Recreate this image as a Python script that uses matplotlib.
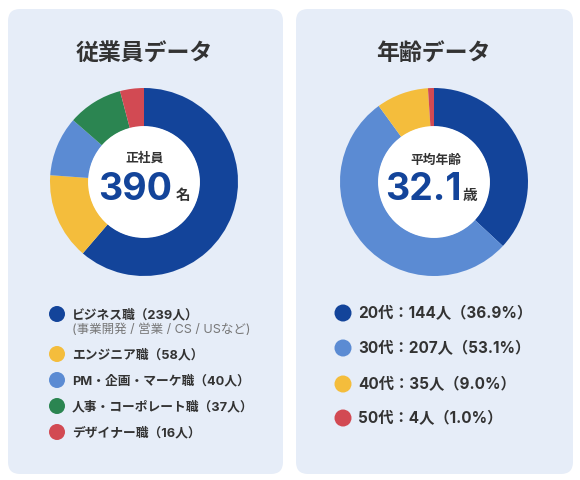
import matplotlib
matplotlib.use("Agg")
import matplotlib.pyplot as plt
from matplotlib.patches import FancyBboxPatch, Circle

plt.rcParams['font.family'] = ['Noto Sans CJK JP', 'DejaVu Sans']
MIX = ['Inter', 'Noto Sans CJK JP', 'DejaVu Sans']

# ---- data ----
job_labels = ["ビジネス職（239人）", "エンジニア職（58人）", "PM・企画・マーケ職（40人）",
              "人事・コーポレート職（37人）", "デザイナー職（16人）"]
job_sub = "(事業開発 / 営業 / CS / USなど)"
job_values = [239, 58, 40, 37, 16]
job_colors = ["#13449A", "#F4BD3C", "#5B8BD3", "#2B8551", "#D24A53"]

age_labels = ["20代：144人（36.9%）", "30代：207人（53.1%）",
              "40代：35人（9.0%）", "50代：4人（1.0%）"]
age_values = [144, 207, 35, 4]
age_colors = ["#13449A", "#5B8BD3", "#F4BD3C", "#D24A53"]

W, H = 580, 481
fig = plt.figure(figsize=(W / 100, H / 100), dpi=100)
fig.patch.set_facecolor("white")
bg = fig.add_axes([0, 0, 1, 1])
bg.set_xlim(0, W)
bg.set_ylim(H, 0)
bg.axis("off")

panel_color = "#E6EDF8"
text_dark = "#333333"
num_blue = "#13449A"

for x0, x1 in [(8, 283), (296, 573)]:
    bg.add_patch(FancyBboxPatch((x0, 10), x1 - x0, 465,
                                boxstyle="round,pad=0,rounding_size=12",
                                facecolor=panel_color, edgecolor="none"))

def add_donut(cx, cy, values, colors):
    r = 94
    ax = fig.add_axes([(cx - r) / W, (H - cy - r) / H, 2 * r / W, 2 * r / H])
    ax.pie(values, colors=colors, startangle=90, counterclock=False,
           wedgeprops=dict(width=0.41, linewidth=0))
    ax.add_patch(Circle((0, 0), 0.595, facecolor="white", edgecolor="none"))
    ax.set_xlim(-1, 1)
    ax.set_ylim(-1, 1)
    ax.set_aspect("equal")
    ax.axis("off")

add_donut(144, 183, job_values, job_colors)
add_donut(434, 183, age_values, age_colors)

# overlay for text on top of the donuts
ov = fig.add_axes([0, 0, 1, 1])
ov.set_xlim(0, W)
ov.set_ylim(H, 0)
ov.axis("off")
ov.patch.set_alpha(0)

# left panel
ov.text(144, 53, "従業員データ", ha="center", va="center", fontsize=16.5,
        fontweight="bold", color=text_dark)
ov.text(145, 158, "正社員", ha="center", va="center", fontsize=9.2,
        fontweight="bold", color=text_dark)
ov.text(135, 190, "390", ha="center", va="center", fontsize=27,
        fontweight="bold", color=num_blue, family=MIX)
ov.text(183, 195, "名", ha="center", va="center", fontsize=10.5,
        fontweight="bold", color=text_dark)

left_rows = [315, 355, 381, 407, 433]
for y, lab, col in zip(left_rows, job_labels, job_colors):
    ov.add_patch(Circle((57, y), 8, facecolor=col, edgecolor="none"))
    ov.text(72, y, lab, ha="left", va="center", fontsize=9.2,
            fontweight="bold", color=text_dark, family=MIX)
ov.text(72, 330, job_sub, ha="left", va="center", fontsize=9,
        color="#777777", family=MIX)

# right panel
ov.text(433, 53, "年齢データ", ha="center", va="center", fontsize=16.5,
        fontweight="bold", color=text_dark)
ov.text(436, 160, "平均年齢", ha="center", va="center", fontsize=9.2,
        fontweight="bold", color=text_dark)
ov.text(423, 190, "32.1", ha="center", va="center", fontsize=27,
        fontweight="bold", color=num_blue, family=MIX)
ov.text(470, 195, "歳", ha="center", va="center", fontsize=10.5,
        fontweight="bold", color=text_dark)

right_rows = [314, 349, 385, 419]
for y, lab, col in zip(right_rows, age_labels, age_colors):
    ov.add_patch(Circle((343, y), 8.5, facecolor=col, edgecolor="none"))
    ov.text(358, y, lab, ha="left", va="center", fontsize=11,
            fontweight="bold", color=text_dark, family=MIX)

fig.savefig("out.png", dpi=100, facecolor="white")
